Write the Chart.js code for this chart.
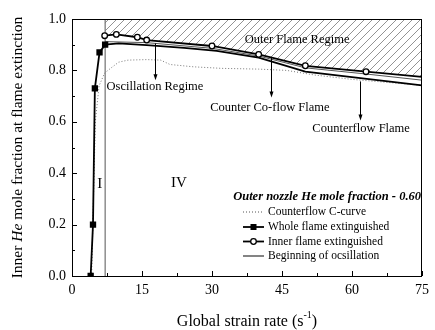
<!DOCTYPE html>
<html>
<head>
<meta charset="utf-8">
<script src="https://cdn.jsdelivr.net/npm/chart.js@4.4.0/dist/chart.umd.min.js"></script>
<style>
  html, body { margin: 0; padding: 0; background: #fff; }
  #wrap { width: 435px; height: 330px; }
</style>
</head>
<body>
<div id="wrap"><canvas id="chart"></canvas></div>
<script>
const FONT = '"Liberation Serif", "Times New Roman", serif';

// ─── Data ──────────────────────────────────────────────────────
// Whole flame extinguished (markers only on the region-I points)
const wholeX = [4.0, 4.5, 4.9, 5.9, 7.1, 10, 16, 24, 31, 40, 50, 75];
const wholeY = [0.0, 0.2, 0.73, 0.87, 0.90, 0.905, 0.898, 0.888, 0.876, 0.85, 0.795, 0.742];
const wholeMarked = 5;

// Inner flame extinguished (open circles, last point unmarked)
const innerX = [7.0, 9.5, 14, 16, 30, 40, 50, 63, 75];
const innerY = [0.935, 0.94, 0.929, 0.918, 0.895, 0.862, 0.818, 0.795, 0.775];

// Beginning of oscillation
const oscX = [7.1, 16, 30, 40, 50, 63, 75];
const oscY = [0.912, 0.908, 0.886, 0.856, 0.81, 0.786, 0.762];

// Counterflow C-curve
const cfX = [4.2, 4.6, 5.0, 5.8, 7.0, 8.4, 10, 12, 16, 19, 21, 26, 32, 40, 46, 52, 60, 75];
const cfY = [0.0, 0.3, 0.6, 0.74, 0.79, 0.81, 0.832, 0.84, 0.842, 0.84, 0.823, 0.814, 0.808, 0.805, 0.80, 0.782, 0.765, 0.742];

// Boundary between regions I and IV
const boundX = [7.1, 7.1];
const boundY = [0.0, 1.0];

// Axis ticks
const xMin = 0, xMax = 75, xMajor = 15, xMinor = 7.5;
const yMin = 0, yMax = 1, yMajor = 0.2, yMinor = 0.1;

// Annotations: [text, x, y]
const regionLabels = [
    ['Outer Flame Regime', 37, 0.918],
    ['Oscillation Regime', 7.4, 0.737],
    ['Counter Co-flow Flame', 29.6, 0.656],
    ['Counterflow Flame', 51.5, 0.572]
];
// arrows: [x, yFrom, yTo]
const arrows = [
    [17.7, 0.905, 0.762],
    [42.6, 0.848, 0.695],
    [61.7, 0.757, 0.605]
];
const romanLabels = [['I', 5.95, 0.358], ['IV', 22.9, 0.362]];

const legendTitle = 'Outer nozzle He mole fraction - 0.60';
const legendItems = ['Counterflow C-curve', 'Whole flame extinguished', 'Inner flame extinguished', 'Beginning of ocsillation'];

// ─── Helpers ───────────────────────────────────────────────────
const pts = (xs, ys) => xs.map((x, i) => ({ x, y: ys[i] }));

function hatchPattern() {
    const s = 8;
    const c = document.createElement('canvas');
    c.width = s; c.height = s;
    const g = c.getContext('2d');
    g.strokeStyle = '#777';
    g.lineWidth = 0.8;
    g.beginPath();
    g.moveTo(0, s); g.lineTo(s, 0);
    g.moveTo(-1, 1); g.lineTo(1, -1);
    g.moveTo(s - 1, s + 1); g.lineTo(s + 1, s - 1);
    g.stroke();
    return g.createPattern(c, 'repeat');
}

function arrow(ctx, x, y1, y2) {
    ctx.beginPath();
    ctx.moveTo(x, y1);
    ctx.lineTo(x, y2 - 4);
    ctx.stroke();
    ctx.beginPath();
    ctx.moveTo(x, y2);
    ctx.lineTo(x - 2, y2 - 6);
    ctx.lineTo(x + 2, y2 - 6);
    ctx.closePath();
    ctx.fill();
}

// ─── Decorations plugin (ticks, frame, titles, labels, legend) ──
const decorations = {
    id: 'decorations',
    afterDatasetsDraw(chart) {
        const { ctx, chartArea: a, scales: { x, y } } = chart;
        ctx.save();
        ctx.strokeStyle = '#000';
        ctx.fillStyle = '#000';
        ctx.lineWidth = 1;

        // frame
        ctx.strokeRect(a.left + 0.5, a.top + 0.5, a.right - a.left - 1, a.bottom - a.top);

        // inward ticks
        ctx.beginPath();
        for (let v = xMin; v <= xMax + 1e-9; v += xMinor) {
            const px = Math.round(x.getPixelForValue(v)) + 0.5;
            const major = Math.abs(v / xMajor - Math.round(v / xMajor)) < 1e-6;
            ctx.moveTo(px, a.bottom);
            ctx.lineTo(px, a.bottom - (major ? 5 : 3));
        }
        for (let v = yMin; v <= yMax + 1e-9; v += yMinor) {
            const py = Math.round(y.getPixelForValue(v)) + 0.5;
            const major = Math.abs(v / yMajor - Math.round(v / yMajor)) < 1e-6;
            ctx.moveTo(a.left, py);
            ctx.lineTo(a.left + (major ? 5 : 3), py);
        }
        ctx.stroke();

        // region labels and arrows
        ctx.font = '12.5px ' + FONT;
        ctx.textBaseline = 'middle';
        ctx.textAlign = 'left';
        regionLabels.forEach(([t, vx, vy]) => {
            ctx.fillText(t, x.getPixelForValue(vx), y.getPixelForValue(vy));
        });
        ctx.lineWidth = 1;
        arrows.forEach(([vx, y1, y2]) => {
            arrow(ctx, Math.round(x.getPixelForValue(vx)) + 0.5, y.getPixelForValue(y1), y.getPixelForValue(y2));
        });
        ctx.font = '15px ' + FONT;
        ctx.textAlign = 'center';
        romanLabels.forEach(([t, vx, vy]) => {
            ctx.fillText(t, x.getPixelForValue(vx), y.getPixelForValue(vy));
        });

        // legend
        ctx.textAlign = 'right';
        ctx.font = 'italic bold 12.5px ' + FONT;
        ctx.fillText(legendTitle, 421, 197);
        ctx.textAlign = 'left';
        ctx.font = '11.5px ' + FONT;
        const rowY = [212, 227, 241.5, 256];
        legendItems.forEach((t, i) => {
            const ly = rowY[i];
            ctx.fillText(t, 268, ly);
            ctx.beginPath();
            if (i === 0) {
                ctx.setLineDash([1, 2]);
                ctx.strokeStyle = '#555';
                ctx.lineWidth = 1;
            } else {
                ctx.setLineDash([]);
                ctx.strokeStyle = i === 3 ? '#333' : '#000';
                ctx.lineWidth = i === 3 ? 1.2 : 1.8;
            }
            ctx.moveTo(243, ly);
            ctx.lineTo(264, ly);
            ctx.stroke();
            ctx.setLineDash([]);
            if (i === 1) ctx.fillRect(250.5, ly - 3, 6, 6);
            if (i === 2) {
                ctx.beginPath();
                ctx.arc(253.5, ly, 2.8, 0, Math.PI * 2);
                ctx.fillStyle = '#fff';
                ctx.fill();
                ctx.lineWidth = 1.3;
                ctx.strokeStyle = '#000';
                ctx.stroke();
                ctx.fillStyle = '#000';
            }
        });

        // axis titles
        ctx.textAlign = 'left';
        ctx.textBaseline = 'alphabetic';
        const xt1 = 'Global strain rate (s', xt2 = '-1', xt3 = ')';
        ctx.font = '16px ' + FONT;
        const w1 = ctx.measureText(xt1).width, w3 = ctx.measureText(xt3).width;
        ctx.font = '10px ' + FONT;
        const w2 = ctx.measureText(xt2).width;
        let tx = (a.left + a.right) / 2 - (w1 + w2 + w3) / 2;
        const ty = 326;
        ctx.font = '16px ' + FONT;
        ctx.fillText(xt1, tx, ty);
        ctx.font = '10px ' + FONT;
        ctx.fillText(xt2, tx + w1, ty - 8);
        ctx.font = '16px ' + FONT;
        ctx.fillText(xt3, tx + w1 + w2, ty);

        ctx.save();
        ctx.translate(22, (a.top + a.bottom) / 2);
        ctx.rotate(-Math.PI / 2);
        const parts = [['Inner ', '15.5px '], ['He', 'italic 15.5px '], [' mole fraction at flame extinction', '15.5px ']];
        let total = 0;
        parts.forEach(([t, f]) => { ctx.font = f + FONT; total += ctx.measureText(t).width; });
        let px = -total / 2;
        parts.forEach(([t, f]) => {
            ctx.font = f + FONT;
            ctx.fillText(t, px, 0);
            px += ctx.measureText(t).width;
        });
        ctx.restore();

        ctx.restore();
    }
};

// ─── Chart ─────────────────────────────────────────────────────
const line = { fill: false, tension: 0, pointHoverRadius: 0 };

new Chart(document.getElementById('chart'), {
    type: 'line',
    data: {
        datasets: [
            {
                label: 'Inner flame extinguished',
                data: pts(innerX, innerY),
                borderColor: '#000',
                borderWidth: 1.8,
                fill: 'end',
                backgroundColor: hatchPattern(),
                pointStyle: 'circle',
                pointRadius: innerX.map((_, i) => i < innerX.length - 1 ? 2.8 : 0),
                pointBackgroundColor: '#fff',
                pointBorderColor: '#000',
                pointBorderWidth: 1.3,
                tension: 0,
                order: 1
            },
            {
                label: 'Beginning of ocsillation',
                data: pts(oscX, oscY),
                borderColor: '#555',
                borderWidth: 1,
                pointRadius: 0,
                ...line,
                order: 3
            },
            {
                label: 'Whole flame extinguished',
                data: pts(wholeX, wholeY),
                borderColor: '#000',
                borderWidth: 1.8,
                pointStyle: 'rect',
                pointRadius: wholeX.map((_, i) => i < wholeMarked ? 3.2 : 0),
                pointBackgroundColor: '#000',
                pointBorderColor: '#000',
                ...line,
                order: 2
            },
            {
                label: 'Counterflow C-curve',
                data: pts(cfX, cfY),
                borderColor: '#777',
                borderWidth: 1,
                borderDash: [1, 2],
                pointRadius: 0,
                ...line,
                order: 4
            },
            {
                label: 'boundary',
                data: pts(boundX, boundY),
                borderColor: '#555',
                borderWidth: 1,
                pointRadius: 0,
                ...line,
                order: 5
            }
        ]
    },
    options: {
        responsive: true,
        maintainAspectRatio: false,
        animation: false,
        events: [],
        layout: { padding: { top: 19, right: 9, left: 0, bottom: 0 } },
        plugins: { legend: { display: false }, tooltip: { enabled: false } },
        scales: {
            x: {
                type: 'linear',
                min: xMin, max: xMax,
                grid: { display: false, drawTicks: false },
                border: { display: false },
                ticks: {
                    stepSize: xMajor,
                    color: '#000',
                    font: { family: FONT, size: 14 },
                    padding: 6,
                    maxRotation: 0
                },
                afterFit(s) { s.height = 54; }
            },
            y: {
                min: yMin, max: yMax,
                grid: { display: false, drawTicks: false },
                border: { display: false },
                ticks: {
                    stepSize: yMajor,
                    color: '#000',
                    font: { family: FONT, size: 14 },
                    padding: 6,
                    callback: v => v.toFixed(1)
                },
                afterFit(s) { s.width = 72; }
            }
        }
    },
    plugins: [decorations]
});
</script>
</body>
</html>
